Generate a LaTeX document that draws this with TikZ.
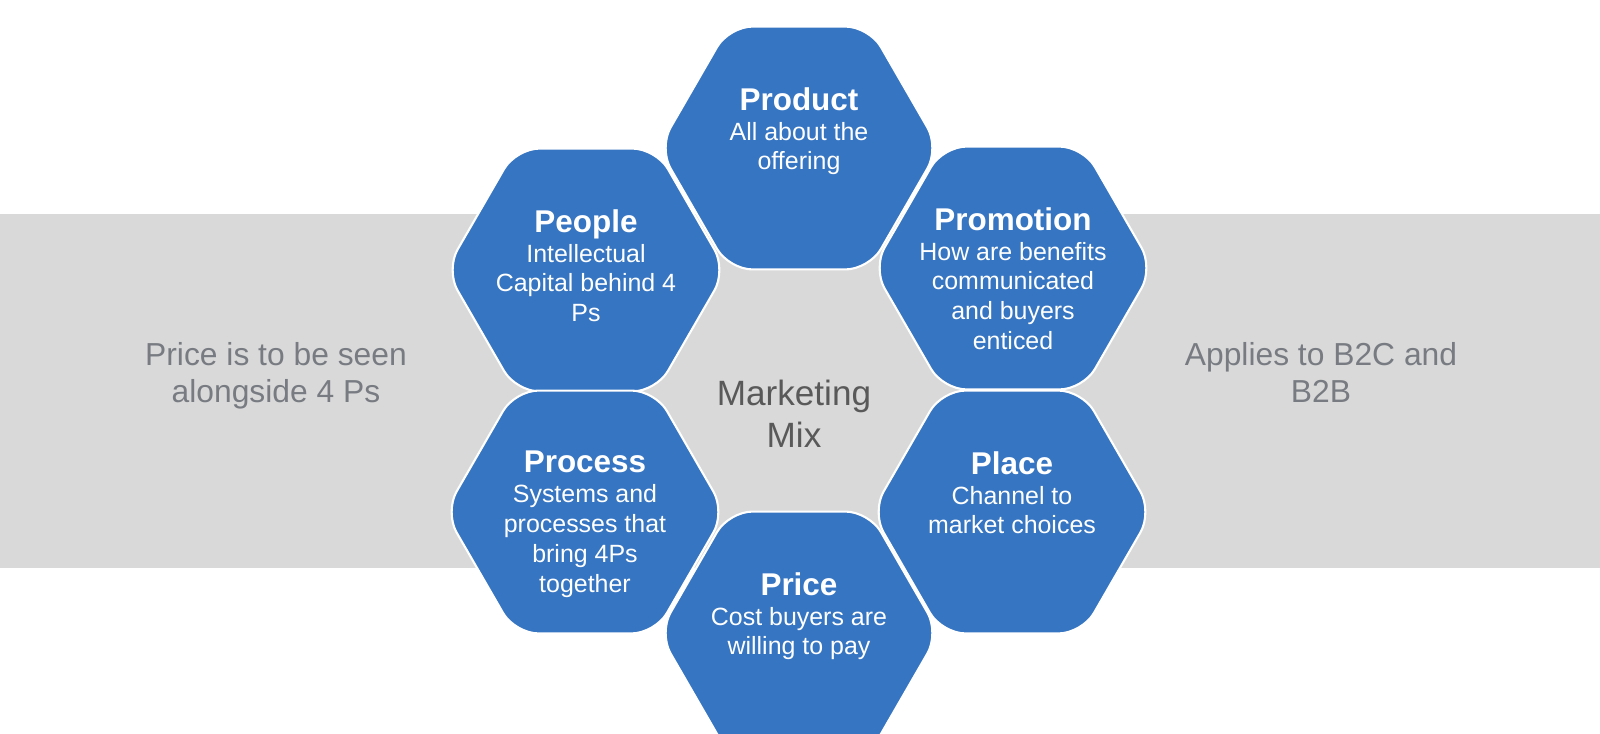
\documentclass[tikz,border=0pt]{standalone}
\usepackage{fontspec}
\setmainfont{Liberation Sans}
\usepackage{xcolor}
\usepackage{tikz}
\usetikzlibrary{shapes,positioning,calc}

\definecolor{hexblue}{RGB}{54,117,194}
\definecolor{bandgray}{RGB}{217,217,217}
\definecolor{sidegray}{RGB}{120,124,130}
\definecolor{midgray}{RGB}{89,89,89}
\newcommand{\hexhead}[1]{{\fontsize{17.9}{17}\selectfont\bfseries #1}}

\begin{document}
\begin{tikzpicture}[x=0.02cm, y=-0.02cm,
      hexa/.style={regular polygon, regular polygon sides=6, minimum size=5.61cm, inner sep=0pt,
        fill=hexblue, draw=white, line width=1.2pt, rounded corners=0.47cm},
      hexatext/.style={anchor=north, align=center, text=white, inner sep=0pt,
        font=\fontsize{14.2}{17}\selectfont},
      sidetext/.style={anchor=base, align=center, text=sidegray, inner sep=0pt,
        font=\fontsize{18.1}{21}\selectfont}
    ]
    \useasboundingbox (0,0) rectangle (1600,734);
    \clip (0,0) rectangle (1600,734);
    \fill[white] (0,0) rectangle (1600,734);
    \fill[bandgray] (0,214) rectangle (1600,568);

    \node[sidetext] (leftnote) at (276,402) {Price is to be seen\\alongside 4 Ps};
    \node[sidetext] (rightnote) at (1321,402) {Applies to B2C and\\B2B};

    \node[hexa] (product) at (799,148) {};
    \node[hexa] (people) at (586,270) {};
    \node[hexa] (promotion) at (1013,268) {};
    \node[hexa] (process) at (585,512) {};
    \node[hexa] (place) at (1012,512) {};
    \node[hexa] (price) at (799,633) {};

    \node[hexatext] (product-txt) at ($(product.center)+(0,-61)$) {\hexhead{Product}\\All about the\\offering};
    \node[hexatext] (people-txt) at ($(people.center)+(0,-61)$) {\hexhead{People}\\Intellectual\\Capital behind 4\\Ps};
    \node[hexatext] (promotion-txt) at ($(promotion.center)+(0,-61)$) {\hexhead{Promotion}\\How are benefits\\communicated\\and buyers\\enticed};
    \node[hexatext] (process-txt) at ($(process.center)+(0,-61)$) {\hexhead{Process}\\Systems and\\processes that\\bring 4Ps\\together};
    \node[hexatext] (place-txt) at ($(place.center)+(0,-61)$) {\hexhead{Place}\\Channel to\\market choices};
    \node[hexatext] (price-txt) at ($(price.center)+(0,-61)$) {\hexhead{Price}\\Cost buyers are\\willing to pay};

    \node[anchor=base, align=center, text=midgray, inner sep=0pt,
      font=\fontsize{20}{23.8}\selectfont] (mix) at (794,447) {Marketing\\Mix};
  \end{tikzpicture}
\end{document}
